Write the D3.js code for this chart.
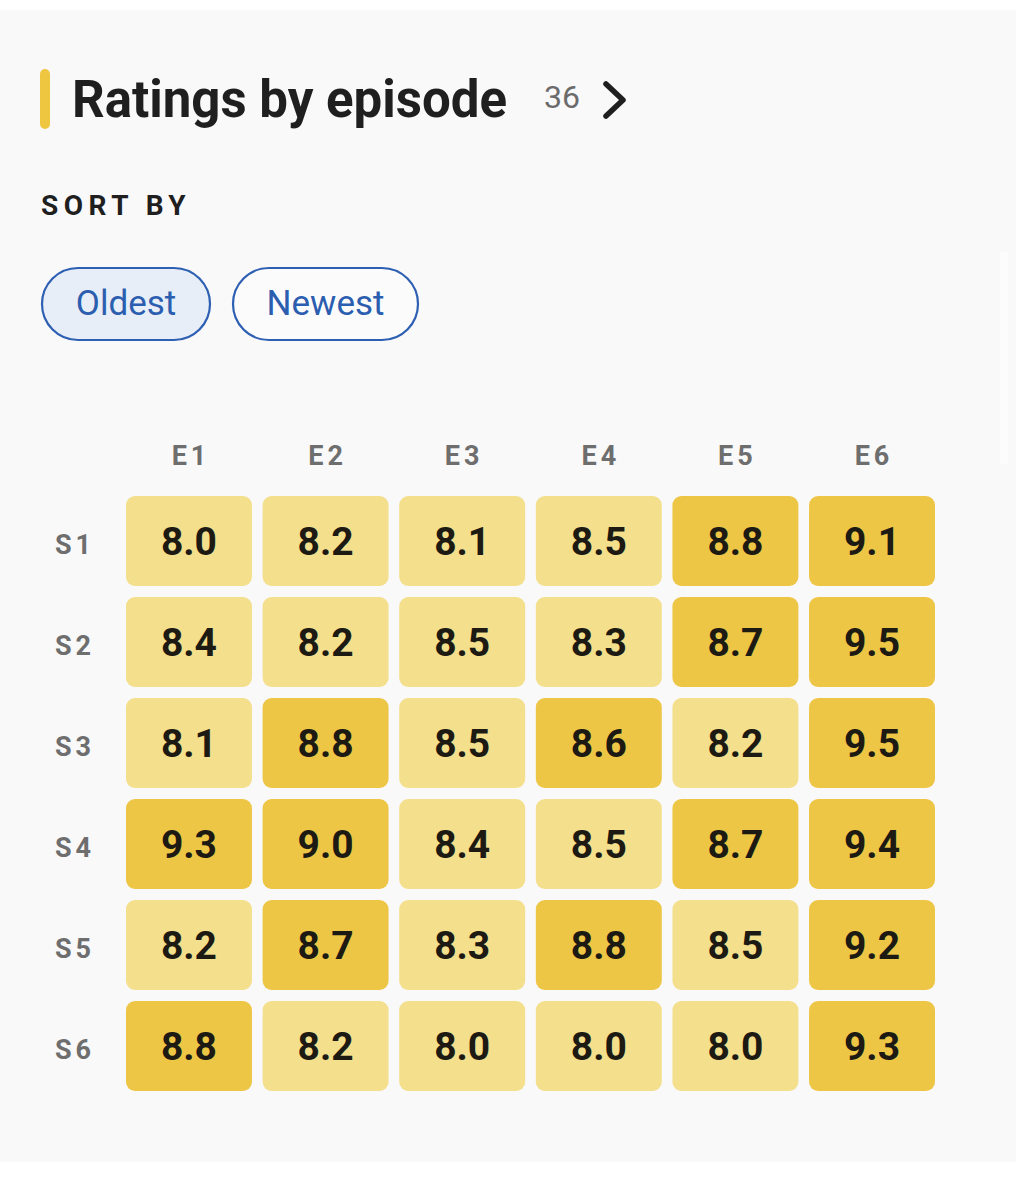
<!DOCTYPE html>
<html>
<head>
<meta charset="utf-8">
<script src="https://cdn.jsdelivr.net/npm/d3@7"></script>
<style>
  html, body { margin: 0; padding: 0; background: #ffffff; }
  svg { display: block; font-family: Roboto, "Noto Sans", sans-serif; }
</style>
</head>
<body>
<svg id="chart" width="1016" height="1200"></svg>
<script>
// data
const seasons = ["S1", "S2", "S3", "S4", "S5", "S6"];
const episodes = ["E1", "E2", "E3", "E4", "E5", "E6"];
const ratingsS1 = [8.0, 8.2, 8.1, 8.5, 8.8, 9.1];
const ratingsS2 = [8.4, 8.2, 8.5, 8.3, 8.7, 9.5];
const ratingsS3 = [8.1, 8.8, 8.5, 8.6, 8.2, 9.5];
const ratingsS4 = [9.3, 9.0, 8.4, 8.5, 8.7, 9.4];
const ratingsS5 = [8.2, 8.7, 8.3, 8.8, 8.5, 9.2];
const ratingsS6 = [8.8, 8.2, 8.0, 8.0, 8.0, 9.3];
const ratings = [ratingsS1, ratingsS2, ratingsS3, ratingsS4, ratingsS5, ratingsS6];
const sortOptions = ["Oldest", "Newest"];
const titleText = "Ratings by episode";
const episodeCount = "36";

const svg = d3.select("#chart");
const width = +svg.attr("width");

// panel background
svg.append("rect")
    .attr("x", 0).attr("y", 10)
    .attr("width", width).attr("height", 1152)
    .attr("fill", "#f9f9fa");

// faint strip on the right edge
svg.append("rect")
    .attr("x", 1000).attr("y", 252)
    .attr("width", 8).attr("height", 212)
    .attr("fill", "#fcfcfc");

// header
svg.append("rect")
    .attr("x", 40).attr("y", 69)
    .attr("width", 10).attr("height", 60)
    .attr("rx", 5)
    .attr("fill", "#eec640");

svg.append("text")
    .attr("x", 72).attr("y", 117)
    .attr("font-size", 51)
    .attr("font-weight", 700)
    .attr("fill", "#1f1f1f")
    .text(titleText);

svg.append("text")
    .attr("x", 544).attr("y", 108)
    .attr("font-size", 32)
    .attr("fill", "#6b6b6b")
    .text(episodeCount);

svg.append("path")
    .attr("d", "M606,84 L623,100 L606,116")
    .attr("fill", "none")
    .attr("stroke", "#1f1f1f")
    .attr("stroke-width", 5.5)
    .attr("stroke-linecap", "round")
    .attr("stroke-linejoin", "round");

svg.append("text")
    .attr("x", 41).attr("y", 215)
    .attr("font-size", 28)
    .attr("font-weight", 700)
    .attr("letter-spacing", 5.5)
    .attr("fill", "#1f1f1f")
    .text("SORT BY");

// sort buttons
const btnX = [41, 232];
const btnW = [170, 187];
const btn = svg.selectAll(".btn")
    .data(sortOptions)
    .enter().append("g")
    .attr("class", "btn")
    .attr("transform", (d, i) => `translate(${btnX[i]},267)`);

btn.append("rect")
    .attr("x", 1).attr("y", 1)
    .attr("width", (d, i) => btnW[i] - 2)
    .attr("height", 72)
    .attr("rx", 36)
    .attr("fill", (d, i) => i === 0 ? "#e8eef7" : "#fbfbfc")
    .attr("stroke", "#2d5fb2")
    .attr("stroke-width", 2.2);

btn.append("text")
    .attr("x", (d, i) => btnW[i] / 2)
    .attr("y", 48)
    .attr("text-anchor", "middle")
    .attr("font-size", 35)
    .attr("fill", "#2c5eb0")
    .text(d => d);

// heatmap
const x = d3.scaleBand()
    .domain(episodes)
    .range([126, 935])
    .paddingInner(0.078)
    .paddingOuter(0);

const y = d3.scaleBand()
    .domain(seasons)
    .range([496, 1091])
    .paddingInner(0.109)
    .paddingOuter(0);

const color = d3.scaleThreshold()
    .domain([8.6])
    .range(["#f3df8c", "#edc646"]);

const cells = [];
seasons.forEach((s, i) => {
    episodes.forEach((e, j) => {
        cells.push({ season: s, episode: e, value: ratings[i][j] });
    });
});

svg.selectAll(".col-label")
    .data(episodes)
    .enter().append("text")
    .attr("class", "col-label")
    .attr("x", d => x(d) + x.bandwidth() / 2 + 2)
    .attr("y", 465)
    .attr("text-anchor", "middle")
    .attr("font-size", 27)
    .attr("font-weight", 700)
    .attr("letter-spacing", 4)
    .attr("fill", "#6e6e6e")
    .text(d => d);

svg.selectAll(".row-label")
    .data(seasons)
    .enter().append("text")
    .attr("class", "row-label")
    .attr("x", 75)
    .attr("y", d => y(d) + y.bandwidth() / 2 + 13)
    .attr("text-anchor", "middle")
    .attr("font-size", 27)
    .attr("font-weight", 700)
    .attr("letter-spacing", 4)
    .attr("fill", "#6e6e6e")
    .text(d => d);

svg.selectAll(".cell")
    .data(cells)
    .enter().append("rect")
    .attr("class", "cell")
    .attr("x", d => x(d.episode))
    .attr("y", d => y(d.season))
    .attr("width", x.bandwidth())
    .attr("height", y.bandwidth())
    .attr("rx", 9)
    .attr("fill", d => color(d.value));

svg.selectAll(".cell-label")
    .data(cells)
    .enter().append("text")
    .attr("class", "cell-label")
    .attr("x", d => x(d.episode) + x.bandwidth() / 2)
    .attr("y", d => y(d.season) + y.bandwidth() / 2 + 14)
    .attr("text-anchor", "middle")
    .attr("font-size", 39)
    .attr("font-weight", 700)
    .attr("fill", "#1c1a12")
    .text(d => d.value.toFixed(1));
</script>
</body>
</html>
